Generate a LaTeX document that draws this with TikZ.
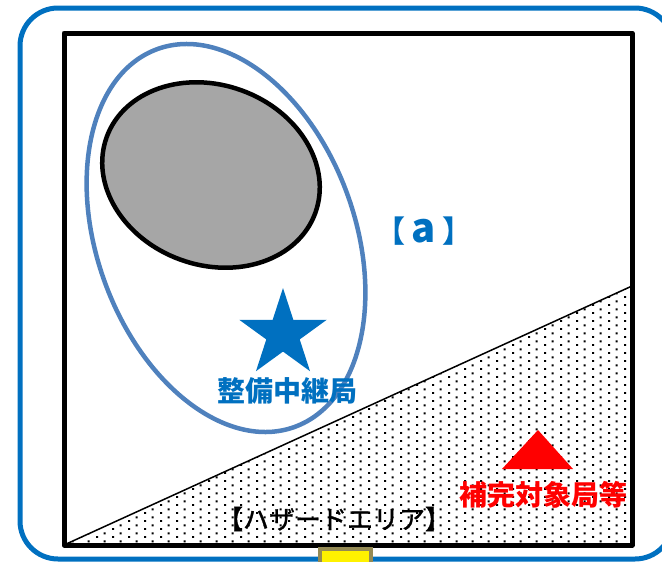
\documentclass[tikz,border=0pt]{standalone}
\usepackage{fontspec}
\usetikzlibrary{shapes.geometric,patterns}
\newfontfamily\jpfont{Noto Sans CJK JP}
\newfontfamily\jpmedium{Noto Sans CJK JP}[FakeBold=1.2]
\definecolor{frameblue}{RGB}{0,112,192}
\definecolor{ringblue}{RGB}{79,129,189}
\definecolor{blobgray}{RGB}{166,166,166}
\definecolor{padolive}{RGB}{148,138,84}

% staggered dots for the hazard area
\pgfdeclarepatternformonly{hazard dots}{\pgfqpoint{0pt}{0pt}}{\pgfqpoint{16pt}{8pt}}{\pgfqpoint{16pt}{8pt}}{%
  \pgfpathrectangle{\pgfqpoint{0pt}{0pt}}{\pgfqpoint{2.2pt}{2.2pt}}%
  \pgfpathrectangle{\pgfqpoint{8pt}{4pt}}{\pgfqpoint{2.2pt}{2.2pt}}%
  \pgfusepath{fill}}

\begin{document}
\begin{tikzpicture}[x=1pt,y=-1pt,
  jplabel/.style={font=\jpfont\bfseries\fontsize{28}{28}\selectfont, inner sep=0pt}]
\useasboundingbox (0,0) rectangle (662,562);
\clip (0,0) rectangle (662,562);

% Corners of the area
\coordinate (sw) at (64,545);
\coordinate (ne) at (632,33);
\coordinate (se) at (632,545);
\coordinate (cut) at (632,286);

% Hazard area below the slope
\fill[pattern=hazard dots] (sw) -- (cut) -- (se) -- cycle;
\draw[line width=1.5pt] (sw) -- (cut);

% Area frame
\draw[line width=5pt, line join=round] (sw) rectangle (ne);

% Covered zone and the blind spot
\draw[ringblue, line width=4.5pt] (226,238) circle[x radius=129, y radius=201, rotate=20];
\draw[fill=blobgray, line width=4.5pt] (211,175) circle[x radius=111, y radius=90, rotate=-20];

% Relay station
\node[star, star points=5, star point ratio=2.618, fill=frameblue, inner sep=0pt, minimum size=92pt] (relay) at (283,334) {};
\node[jplabel, text=frameblue] (relay label) at (287,391) {整備中継局};
\node[jplabel, text=frameblue, font=\jpfont\bfseries\fontsize{30}{30}\selectfont] (zone a) at (424,231) {【\hspace{6pt}{\fontsize{40}{40}\selectfont a}\hspace{6pt}】};

% Stations to be covered
\coordinate (t1) at (502,469);
\coordinate (t2) at (573,469);
\coordinate (t3) at (538,430);
\fill[red] (t1) -- (t2) -- (t3) -- cycle;
\node[jplabel, text=red] (target label) at (543,495) {補完対象局等};
\node[jplabel, font=\jpmedium\fontsize{26}{26}\selectfont] (hazard label) at (334,519) {【ハザードエリア】};

% Outer frame and the pad below
\draw[frameblue, line width=5pt, rounded corners=38pt] (20,8) rectangle (673,559);
\draw[padolive, fill=yellow, line width=4pt] (320,549) rectangle (371,585);
\end{tikzpicture}
\end{document}
